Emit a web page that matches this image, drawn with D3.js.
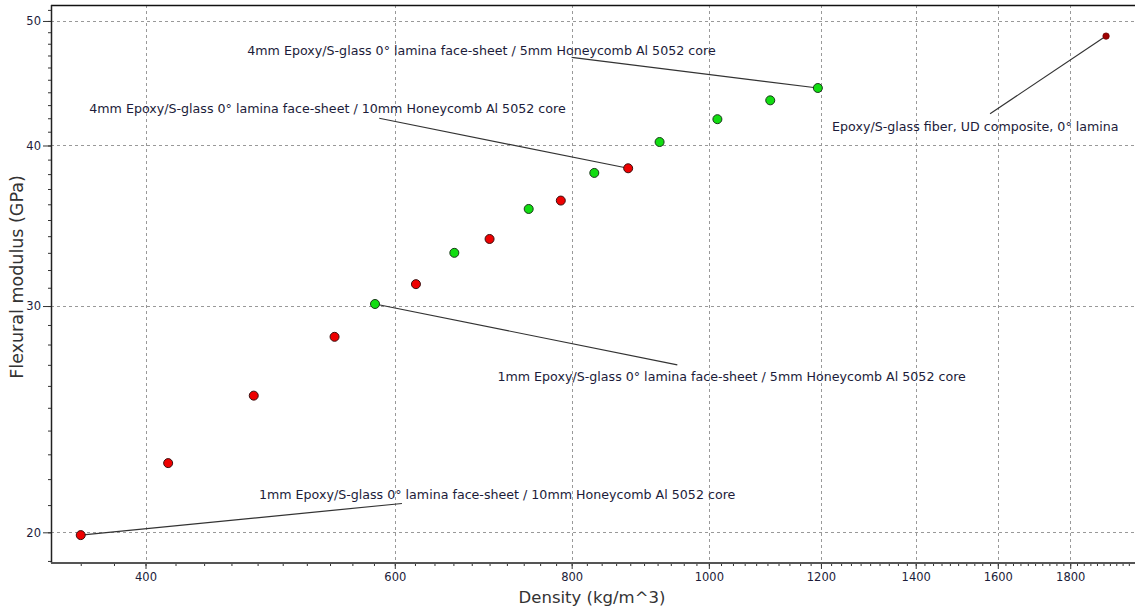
<!DOCTYPE html>
<html>
<head>
<meta charset="utf-8">
<script src="https://cdn.jsdelivr.net/npm/d3@7"></script>
<style>
  body { margin: 0; background: #fff; }
  svg { display: block; }
  .tick text { font-family: "DejaVu Sans", sans-serif; font-size: 11.5px; fill: #1c1c3a; }
  .ann { font-family: "DejaVu Sans", sans-serif; font-size: 12.65px; fill: #1c1c3a; }
  .axis-label { font-family: "DejaVu Sans", sans-serif; fill: #333; }
</style>
</head>
<body>
<div class="canvas"></div>
<script>
// 1mm and 4mm face-sheet series (red) — density kg/m^3, flexural modulus GPa
const redDensity = [360, 415, 477, 544, 621, 700, 786, 877]
const redModulus = [19.9, 22.64, 25.55, 28.39, 31.2, 33.83, 36.24, 38.4]

// 5mm core series (green)
const greenDensity = [581, 661, 746, 830, 923, 1014, 1105, 1194]
const greenModulus = [30.11, 33.0, 35.7, 38.08, 40.25, 41.93, 43.37, 44.34]

// bare laminate
const laminaDensity = [1908]
const laminaModulus = [48.66]

const xTicks = [400, 600, 800, 1000, 1200, 1400, 1600, 1800]
const yTicks = [20, 30, 40, 50]

// annotation texts, which point they point at, label and elbow in data units
const annTexts = [
  "4mm Epoxy/S-glass 0\u00b0 lamina face-sheet / 5mm Honeycomb Al 5052 core",
  "4mm Epoxy/S-glass 0\u00b0 lamina face-sheet / 10mm Honeycomb Al 5052 core",
  "Epoxy/S-glass fiber, UD composite, 0\u00b0 lamina",
  "1mm Epoxy/S-glass 0\u00b0 lamina face-sheet / 5mm Honeycomb Al 5052 core",
  "1mm Epoxy/S-glass 0\u00b0 lamina face-sheet / 10mm Honeycomb Al 5052 core"
]
const annTarget = [[1194, 44.34], [877, 38.4], [1908, 48.66], [581, 30.11], [360, 19.9]]
const annLabel = [[472, 47.45], [365, 42.7], [1222, 41.41], [709, 26.42], [481, 21.4]]
const annLineEnd = [[800, 46.84], [585, 42.0], [1580, 42.34], [950, 27.0], [607, 21.06]]

const width = 1135, height = 612
const plot = {left: 51, right: 1135, top: 5, bottom: 563}

const svg = d3.select(".canvas").append("svg")
  .attr("width", width)
  .attr("height", height)

const xScale = d3.scaleLog()
  .domain([343, 2000])
  .range([plot.left, plot.right])

const yScale = d3.scaleLog()
  .domain([18.93, 51.45])
  .range([plot.bottom, plot.top])

// gridlines
const grid = svg.append("g")
grid.selectAll(".vgrid").data(xTicks).enter().append("line")
  .attr("x1", d => Math.round(xScale(d)) + 0.5).attr("x2", d => Math.round(xScale(d)) + 0.5)
  .attr("y1", plot.top).attr("y2", plot.bottom)
  .attr("stroke", "#999").attr("stroke-dasharray", "3,3")
grid.selectAll(".hgrid").data(yTicks).enter().append("line")
  .attr("y1", d => Math.round(yScale(d)) + 0.5).attr("y2", d => Math.round(yScale(d)) + 0.5)
  .attr("x1", plot.left).attr("x2", plot.right)
  .attr("stroke", "#999").attr("stroke-dasharray", "3,3")

// minor ticks
const xMinor = d3.range(360, 2000, 20)
const yMinor = d3.range(19, 52, 1)

const xMinorAxis = d3.axisBottom(xScale).tickValues(xMinor).tickSize(3).tickFormat("")
const yMinorAxis = d3.axisLeft(yScale).tickValues(yMinor).tickSize(3).tickFormat("")

svg.append("g").attr("transform", `translate(0, ${plot.bottom})`).call(xMinorAxis)
  .call(g => g.select(".domain").remove())
  .call(g => g.selectAll("line").attr("stroke", "#333"))
svg.append("g").attr("transform", `translate(${plot.left}, 0)`).call(yMinorAxis)
  .call(g => g.select(".domain").remove())
  .call(g => g.selectAll("line").attr("stroke", "#333"))

// major axes
const xAxis = d3.axisBottom(xScale).tickValues(xTicks).tickSize(6).tickPadding(4).tickFormat(d3.format("d"))
const yAxis = d3.axisLeft(yScale).tickValues(yTicks).tickSize(8).tickPadding(2).tickFormat(d3.format("d"))

svg.append("g").attr("transform", `translate(0, ${plot.bottom})`).call(xAxis)
  .call(g => g.select(".domain").remove())
  .call(g => g.selectAll("line").attr("stroke", "#333"))
svg.append("g").attr("transform", `translate(${plot.left}, 0)`).call(yAxis)
  .call(g => g.select(".domain").remove())
  .call(g => g.selectAll("line").attr("stroke", "#333"))

// frame
svg.append("line").attr("x1", plot.left).attr("x2", plot.right)
  .attr("y1", plot.top + 0.5).attr("y2", plot.top + 0.5).attr("stroke", "#111").attr("stroke-width", 1.6)
svg.append("line").attr("x1", plot.left + 0.5).attr("x2", plot.left + 0.5)
  .attr("y1", plot.top).attr("y2", plot.bottom).attr("stroke", "#222").attr("stroke-width", 1.5)
svg.append("line").attr("x1", plot.left).attr("x2", plot.right)
  .attr("y1", plot.bottom).attr("y2", plot.bottom).attr("stroke", "#555").attr("stroke-width", 2)

// leader lines
const anns = annTexts.map((t, i) => ({text: t, target: annTarget[i], label: annLabel[i], end: annLineEnd[i]}))
svg.selectAll(".leader").data(anns).enter().append("line")
  .attr("x1", d => xScale(d.end[0])).attr("y1", d => yScale(d.end[1]))
  .attr("x2", d => xScale(d.target[0])).attr("y2", d => yScale(d.target[1]))
  .attr("stroke", "#333").attr("stroke-width", 1.2)

svg.selectAll(".ann").data(anns).enter().append("text")
  .attr("class", "ann")
  .attr("x", d => xScale(d.label[0]))
  .attr("y", d => yScale(d.label[1]))
  .attr("dy", "0.35em")
  .text(d => d.text)

// points
const red = redDensity.map((d, i) => ({x: d, y: redModulus[i]}))
const green = greenDensity.map((d, i) => ({x: d, y: greenModulus[i]}))
const lamina = laminaDensity.map((d, i) => ({x: d, y: laminaModulus[i]}))

svg.selectAll(".red").data(red).enter().append("circle")
  .attr("cx", d => xScale(d.x)).attr("cy", d => yScale(d.y)).attr("r", 4.5)
  .attr("fill", "#ee0000").attr("stroke", "#3a1010").attr("stroke-width", 1)
svg.selectAll(".green").data(green).enter().append("circle")
  .attr("cx", d => xScale(d.x)).attr("cy", d => yScale(d.y)).attr("r", 4.5)
  .attr("fill", "#11dd11").attr("stroke", "#1a3a1a").attr("stroke-width", 1)
svg.selectAll(".lamina").data(lamina).enter().append("circle")
  .attr("cx", d => xScale(d.x)).attr("cy", d => yScale(d.y)).attr("r", 3.2)
  .attr("fill", "#a00000").attr("stroke", "#700000").attr("stroke-width", 0.8)

// axis labels
svg.append("text").attr("class", "axis-label")
  .attr("x", 592).attr("y", 603)
  .attr("font-size", "16.5px")
  .attr("text-anchor", "middle")
  .text("Density (kg/m^3)")
svg.append("text").attr("class", "axis-label")
  .attr("transform", "translate(23, 277) rotate(-90)")
  .attr("font-size", "17.5px")
  .attr("text-anchor", "middle")
  .text("Flexural modulus (GPa)")
</script>
</body>
</html>
